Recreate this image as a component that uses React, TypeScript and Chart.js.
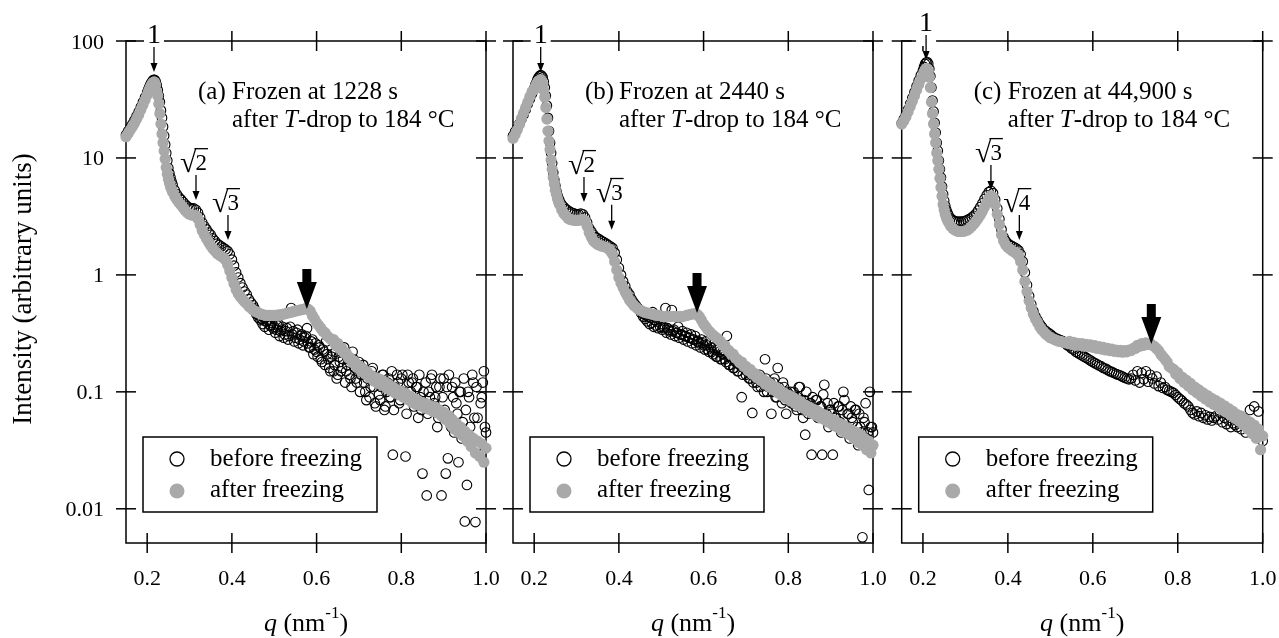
import React, { useEffect, useRef } from 'react';
import { Chart, registerables } from 'chart.js';

Chart.register(...registerables);

const W = 1279;
const H = 638;
const SERIF = '"Liberation Serif", "Times New Roman", Times, serif';
const GRAY = '#a9a9a9';

// ---------- data ----------
const qGrid = [
  0.15, 0.155, 0.16, 0.165, 0.17, 0.175, 0.18, 0.185, 0.19, 0.195,
  0.2, 0.2025, 0.205, 0.2075, 0.21, 0.2125, 0.215, 0.2175, 0.22, 0.2225,
  0.225, 0.2275, 0.23, 0.2325, 0.235, 0.2375, 0.24, 0.2425, 0.245, 0.2475,
  0.25, 0.2525, 0.255, 0.2575, 0.26, 0.265, 0.27, 0.275, 0.28, 0.285,
  0.29, 0.295, 0.3, 0.305, 0.31, 0.315, 0.32, 0.325, 0.33, 0.335,
  0.34, 0.345, 0.35, 0.355, 0.36, 0.365, 0.37, 0.375, 0.38, 0.385,
  0.39, 0.395, 0.4, 0.405, 0.41, 0.415, 0.42, 0.425, 0.43, 0.435,
  0.44, 0.445, 0.45, 0.455, 0.46, 0.465, 0.47, 0.475, 0.48, 0.485,
  0.49, 0.495, 0.5, 0.505, 0.51, 0.515, 0.52, 0.525, 0.53, 0.535,
  0.54, 0.545, 0.55, 0.555, 0.56, 0.565, 0.57, 0.575, 0.58, 0.585,
  0.59, 0.595, 0.6, 0.605, 0.61, 0.615, 0.62, 0.625, 0.63, 0.635,
  0.64, 0.645, 0.65, 0.655, 0.66, 0.665, 0.67, 0.675, 0.68, 0.685,
  0.69, 0.695, 0.7, 0.705, 0.71, 0.715, 0.72, 0.725, 0.73, 0.735,
  0.74, 0.745, 0.75, 0.755, 0.76, 0.765, 0.77, 0.775, 0.78, 0.785,
  0.79, 0.795, 0.8, 0.805, 0.81, 0.815, 0.82, 0.825, 0.83, 0.835,
  0.84, 0.845, 0.85, 0.855, 0.86, 0.865, 0.87, 0.875, 0.88, 0.885,
  0.89, 0.895, 0.9, 0.905, 0.91, 0.915, 0.92, 0.925, 0.93, 0.935,
  0.94, 0.945, 0.95, 0.955, 0.96, 0.965, 0.97, 0.975, 0.98, 0.985,
  0.99, 0.995, 1.0,
];

// additional "before freezing" measurement points in the noisy high-q range
const qExtra = [
  0.4525, 0.4575, 0.4625, 0.4675, 0.4725, 0.4775, 0.4825, 0.4875, 0.4925, 0.4975,
  0.5025, 0.5075, 0.5125, 0.5175, 0.5225, 0.5275, 0.5325, 0.5375, 0.5425, 0.5475,
  0.5525, 0.5575, 0.5625, 0.5675, 0.5725, 0.5775, 0.5825, 0.5875, 0.5925, 0.5975,
  0.6025, 0.6075, 0.6125, 0.6175, 0.6225, 0.6275, 0.6325, 0.6375, 0.6425, 0.6475,
  0.6525, 0.6575, 0.6625, 0.6675, 0.6725, 0.6775, 0.6825, 0.6875, 0.6925, 0.6975,
  0.7025, 0.7075, 0.7125, 0.7175, 0.7225, 0.7275, 0.7325, 0.7375, 0.7425, 0.7475,
  0.7525, 0.7575, 0.7625, 0.7675, 0.7725, 0.7775, 0.7825, 0.7875, 0.7925, 0.7975,
  0.8025, 0.8075, 0.8125, 0.8175, 0.8225, 0.8275, 0.8325, 0.8375, 0.8425, 0.8475,
  0.8525, 0.8575, 0.8625, 0.8675, 0.8725, 0.8775, 0.8825, 0.8875, 0.8925, 0.8975,
  0.9025, 0.9075, 0.9125, 0.9175, 0.9225, 0.9275, 0.9325, 0.9375, 0.9425, 0.9475,
  0.9525, 0.9575, 0.9625, 0.9675, 0.9725, 0.9775, 0.9825, 0.9875, 0.9925, 0.9975,
];

// (a) frozen at 1228 s
const afterA = [
  15.2, 16.2, 17.3, 18.5, 19.8, 21.5, 23.4, 25.8, 28.4, 31.3,
  34.5, 36.5, 38.5, 40.5, 42.0, 43.5, 44.5, 44.5, 42.0, 37.0,
  34.0, 29.0, 24.0, 19.5, 16.0, 13.5, 11.5, 9.8, 8.3, 7.3,
  6.6, 6.1, 5.7, 5.4, 5.1, 4.7, 4.4, 4.15, 3.95, 3.75,
  3.55, 3.4, 3.3, 3.25, 3.25, 3.2, 3.0, 2.7, 2.4, 2.2,
  2.05, 1.9, 1.78, 1.68, 1.6, 1.53, 1.48, 1.44, 1.4, 1.34,
  1.22, 1.08, 0.95, 0.84, 0.75, 0.69, 0.65, 0.62, 0.59, 0.565,
  0.54, 0.52, 0.5, 0.49, 0.48, 0.47, 0.46, 0.455, 0.45, 0.45,
  0.45, 0.45, 0.45, 0.45, 0.455, 0.455, 0.46, 0.465, 0.47, 0.475,
  0.48, 0.485, 0.49, 0.495, 0.5, 0.505, 0.51, 0.515, 0.51, 0.49,
  0.45, 0.42, 0.39, 0.37, 0.35, 0.33, 0.32, 0.3, 0.29, 0.28,
  0.28, 0.25, 0.26, 0.235, 0.235, 0.215, 0.215, 0.195, 0.195, 0.178,
  0.182, 0.162, 0.168, 0.15, 0.157, 0.142, 0.148, 0.132, 0.138, 0.124,
  0.132, 0.118, 0.128, 0.114, 0.122, 0.108, 0.116, 0.103, 0.11, 0.098,
  0.104, 0.094, 0.101, 0.09, 0.097, 0.086, 0.092, 0.081, 0.088, 0.078,
  0.084, 0.076, 0.081, 0.073, 0.079, 0.071, 0.076, 0.068, 0.074, 0.066,
  0.07, 0.062, 0.067, 0.058, 0.063, 0.053, 0.058, 0.048, 0.054, 0.045,
  0.05, 0.042, 0.046, 0.038, 0.043, 0.034, 0.04, 0.03, 0.038, 0.028,
  0.036, 0.025, 0.033,
];
const beforeA = [
  15.8, 17.0, 18.2, 19.5, 21.0, 22.8, 24.8, 27.2, 30.0, 33.0,
  36.5, 38.5, 40.5, 42.5, 44.0, 45.5, 46.5, 46.5, 45.0, 42.0,
  38.0, 34.0, 30.0, 25.5, 22.0, 18.5, 15.5, 13.0, 11.0, 9.5,
  8.2, 7.4, 6.8, 6.3, 5.9, 5.3, 4.9, 4.6, 4.4, 4.2,
  4.0, 3.85, 3.75, 3.7, 3.7, 3.6, 3.4, 3.1, 2.8, 2.6,
  2.45, 2.3, 2.2, 2.05, 1.95, 1.85, 1.8, 1.75, 1.7, 1.65,
  1.6, 1.5, 1.35, 1.2, 1.05, 0.95, 0.85, 0.78, 0.72, 0.68,
  0.62, 0.58, 0.55, 0.5, 0.47, 0.45, 0.42, 0.44, 0.4, 0.41,
  0.37, 0.39, 0.36, 0.34, 0.38, 0.33, 0.36, 0.31, 0.35, 0.3,
  0.52, 0.33, 0.29, 0.34, 0.28, 0.31, 0.27, 0.3, 0.26, 0.24,
  0.28, 0.23, 0.22, 0.25, 0.19, 0.23, 0.17, 0.21, 0.16, 0.2,
  0.15, 0.22, 0.14, 0.18, 0.16, 0.24, 0.15, 0.19, 0.13, 0.22,
  0.16, 0.12, 0.18, 0.14, 0.17, 0.1, 0.13, 0.09, 0.15, 0.11,
  0.075, 0.12, 0.085, 0.14, 0.07, 0.1, 0.13, 0.09, 0.029, 0.11,
  0.14, 0.08, 0.13, 0.1, 0.028, 0.14, 0.09, 0.12, 0.075, 0.11,
  0.06, 0.09, 0.02, 0.08, 0.013, 0.1, 0.13, 0.07, 0.09, 0.05,
  0.11, 0.013, 0.13, 0.02, 0.027, 0.06, 0.11, 0.045, 0.08, 0.025,
  0.1, 0.055, 0.0078, 0.016, 0.09, 0.04, 0.12, 0.0077, 0.06, 0.035,
  0.09, 0.15, 0.045,
];
const beforeAExtra = [
  0.52, 0.46, 0.43, 0.41, 0.38, 0.36, 0.4, 0.34, 0.37, 0.35,
  0.32, 0.37, 0.3, 0.34, 0.29, 0.33, 0.28, 0.36, 0.31, 0.27,
  0.32, 0.26, 0.3, 0.25, 0.29, 0.35, 0.24, 0.27, 0.21, 0.26,
  0.2, 0.24, 0.18, 0.22, 0.27, 0.19, 0.15, 0.21, 0.17, 0.13,
  0.2, 0.15, 0.19, 0.12, 0.17, 0.14, 0.11, 0.19, 0.13, 0.15,
  0.1, 0.16, 0.12, 0.085, 0.14, 0.11, 0.16, 0.08, 0.13, 0.095,
  0.11, 0.14, 0.075, 0.12, 0.09, 0.15, 0.07, 0.1, 0.12, 0.085,
  0.14, 0.095, 0.065, 0.12, 0.1, 0.13, 0.08, 0.11, 0.14, 0.07,
  0.1, 0.12, 0.065, 0.09, 0.14, 0.08, 0.11, 0.06, 0.13, 0.09,
  0.07, 0.11, 0.14, 0.05, 0.09, 0.12, 0.065, 0.1, 0.04, 0.13,
  0.07, 0.1, 0.05, 0.14, 0.06, 0.11, 0.035, 0.08, 0.12, 0.05,
];

// (b) frozen at 2440 s
const afterB = [
  14.7, 15.9, 17.3, 19.3, 21.8, 24.3, 27.0, 30.0, 33.5, 37.0,
  38.5, 40.5, 42.5, 44.0, 45.5, 46.0, 46.5, 46.0, 43.0, 38.0,
  33.0, 27.0, 21.5, 17.0, 14.0, 11.8, 9.6, 8.0, 6.8, 6.0,
  5.3, 4.9, 4.5, 4.2, 4.0, 3.6, 3.35, 3.2, 3.05, 2.98,
  2.95, 2.93, 2.92, 2.93, 2.96, 2.98, 2.9, 2.6, 2.3, 2.1,
  1.95, 1.88, 1.82, 1.79, 1.76, 1.74, 1.72, 1.68, 1.6, 1.5,
  1.3, 1.1, 0.95, 0.85, 0.78, 0.71, 0.66, 0.61, 0.58, 0.55,
  0.53, 0.51, 0.5, 0.49, 0.48, 0.475, 0.47, 0.465, 0.46, 0.455,
  0.45, 0.45, 0.445, 0.44, 0.44, 0.44, 0.44, 0.44, 0.44, 0.44,
  0.44, 0.44, 0.44, 0.445, 0.45, 0.455, 0.46, 0.465, 0.465, 0.46,
  0.44, 0.41, 0.38, 0.36, 0.34, 0.325, 0.31, 0.3, 0.29, 0.28,
  0.27, 0.25, 0.25, 0.23, 0.225, 0.21, 0.21, 0.195, 0.19, 0.178,
  0.18, 0.165, 0.165, 0.152, 0.156, 0.142, 0.144, 0.133, 0.136, 0.125,
  0.128, 0.117, 0.122, 0.11, 0.115, 0.104, 0.11, 0.098, 0.104, 0.093,
  0.098, 0.088, 0.094, 0.084, 0.09, 0.08, 0.086, 0.076, 0.082, 0.073,
  0.077, 0.069, 0.074, 0.066, 0.071, 0.063, 0.068, 0.06, 0.065, 0.058,
  0.062, 0.055, 0.059, 0.052, 0.057, 0.05, 0.054, 0.047, 0.052, 0.045,
  0.049, 0.043, 0.047, 0.04, 0.045, 0.037, 0.043, 0.035, 0.04, 0.032,
  0.038, 0.03, 0.035,
];
const beforeB = [
  15.5, 16.8, 18.0, 19.6, 21.5, 23.5, 26.0, 29.0, 32.0, 35.5,
  39.5, 42.0, 44.0, 46.5, 48.5, 50.0, 51.0, 50.5, 49.0, 45.0,
  40.0, 34.0, 28.0, 22.0, 17.0, 13.5, 11.0, 9.0, 7.5, 6.5,
  5.8, 5.2, 4.8, 4.5, 4.3, 4.0, 3.8, 3.65, 3.55, 3.45,
  3.4, 3.35, 3.3, 3.3, 3.35, 3.3, 3.1, 2.8, 2.5, 2.35,
  2.2, 2.1, 2.05, 2.0, 1.95, 1.9, 1.85, 1.8, 1.75, 1.7,
  1.55, 1.35, 1.15, 1.0, 0.88, 0.8, 0.72, 0.68, 0.62, 0.58,
  0.55, 0.52, 0.5, 0.48, 0.46, 0.45, 0.44, 0.43, 0.48, 0.41,
  0.4, 0.42, 0.38, 0.36, 0.52, 0.35, 0.33, 0.5, 0.34, 0.32,
  0.36, 0.31, 0.33, 0.3, 0.32, 0.29, 0.31, 0.28, 0.3, 0.27,
  0.26, 0.28, 0.25, 0.27, 0.23, 0.26, 0.22, 0.24, 0.2, 0.23,
  0.19, 0.21, 0.19, 0.3, 0.17, 0.2, 0.16, 0.18, 0.15, 0.17,
  0.09, 0.16, 0.14, 0.15, 0.13, 0.066, 0.14, 0.12, 0.13, 0.11,
  0.12, 0.19, 0.1, 0.11, 0.065, 0.12, 0.09, 0.16, 0.1, 0.08,
  0.11, 0.065, 0.09, 0.1, 0.08, 0.09, 0.07, 0.11, 0.085, 0.06,
  0.043, 0.075, 0.08, 0.029, 0.07, 0.085, 0.06, 0.075, 0.029, 0.115,
  0.065, 0.05, 0.07, 0.029, 0.06, 0.055, 0.075, 0.045, 0.1, 0.05,
  0.065, 0.04, 0.06, 0.045, 0.07, 0.035, 0.05, 0.0057, 0.055, 0.04,
  0.0145, 0.05, 0.045,
];
const beforeBExtra = [
  0.47, 0.44, 0.42, 0.4, 0.38, 0.39, 0.36, 0.37, 0.35, 0.36,
  0.34, 0.35, 0.32, 0.34, 0.31, 0.33, 0.3, 0.32, 0.29, 0.31,
  0.28, 0.3, 0.27, 0.29, 0.26, 0.28, 0.25, 0.27, 0.24, 0.26,
  0.23, 0.25, 0.22, 0.24, 0.21, 0.23, 0.2, 0.22, 0.19, 0.21,
  0.18, 0.2, 0.17, 0.19, 0.16, 0.18, 0.15, 0.17, 0.14, 0.16,
  0.15, 0.13, 0.14, 0.12, 0.13, 0.11, 0.14, 0.12, 0.1, 0.13,
  0.11, 0.12, 0.1, 0.13, 0.09, 0.11, 0.1, 0.12, 0.085, 0.1,
  0.095, 0.08, 0.1, 0.075, 0.09, 0.11, 0.07, 0.085, 0.1, 0.065,
  0.08, 0.09, 0.07, 0.085, 0.065, 0.075, 0.095, 0.06, 0.08, 0.07,
  0.065, 0.08, 0.06, 0.075, 0.055, 0.07, 0.085, 0.05, 0.065, 0.075,
  0.055, 0.07, 0.05, 0.065, 0.045, 0.06, 0.08, 0.045, 0.1, 0.05,
];

// (c) frozen at 44,900 s
const afterC = [
  19.5, 20.8, 22.5, 24.8, 27.5, 30.5, 34.0, 38.0, 42.5, 47.0,
  51.0, 54.0, 56.5, 58.0, 58.0, 55.0, 49.0, 40.0, 30.0, 24.0,
  19.5, 16.0, 13.5, 11.0, 9.5, 8.0, 6.7, 5.6, 4.7, 4.0,
  3.6, 3.3, 3.1, 2.95, 2.82, 2.62, 2.5, 2.42, 2.37, 2.35,
  2.35, 2.36, 2.38, 2.42, 2.5, 2.6, 2.72, 2.88, 3.05, 3.25,
  3.5, 3.8, 4.15, 4.5, 4.75, 4.6, 4.0, 3.3, 2.7, 2.2,
  1.95, 1.8, 1.72, 1.66, 1.61, 1.57, 1.53, 1.45, 1.3, 1.1,
  0.88, 0.72, 0.6, 0.52, 0.46, 0.42, 0.39, 0.36, 0.34, 0.325,
  0.31, 0.3, 0.29, 0.285, 0.28, 0.275, 0.27, 0.27, 0.265, 0.265,
  0.26, 0.27, 0.255, 0.265, 0.25, 0.26, 0.25, 0.258, 0.245, 0.255,
  0.245, 0.252, 0.24, 0.248, 0.235, 0.244, 0.232, 0.24, 0.228, 0.236,
  0.225, 0.232, 0.222, 0.228, 0.22, 0.226, 0.218, 0.225, 0.22, 0.228,
  0.225, 0.235, 0.235, 0.25, 0.245, 0.258, 0.25, 0.262, 0.255, 0.26,
  0.25, 0.245, 0.235, 0.225, 0.21, 0.2, 0.19, 0.18, 0.165, 0.16,
  0.156, 0.142, 0.146, 0.13, 0.134, 0.12, 0.126, 0.112, 0.118, 0.104,
  0.11, 0.098, 0.104, 0.092, 0.098, 0.087, 0.093, 0.082, 0.088, 0.078,
  0.084, 0.074, 0.08, 0.07, 0.076, 0.067, 0.072, 0.063, 0.068, 0.059,
  0.064, 0.056, 0.062, 0.052, 0.058, 0.048, 0.055, 0.044, 0.052, 0.04,
  0.048, 0.032, 0.042,
];
const beforeC = [
  19.8, 21.5, 23.5, 26.0, 29.0, 32.5, 36.5, 41.0, 46.0, 51.0,
  56.0, 60.0, 63.5, 65.5, 66.0, 64.0, 58.0, 50.0, 40.0, 31.0,
  25.0, 20.0, 16.5, 13.5, 11.5, 9.5, 8.0, 6.8, 5.7, 4.9,
  4.3, 3.9, 3.6, 3.4, 3.25, 3.05, 2.95, 2.88, 2.85, 2.85,
  2.85, 2.87, 2.9, 2.95, 3.02, 3.1, 3.2, 3.35, 3.55, 3.8,
  4.1, 4.45, 4.8, 5.1, 5.25, 5.0, 4.4, 3.7, 3.0, 2.45,
  2.1, 1.95, 1.85, 1.8, 1.76, 1.72, 1.68, 1.62, 1.5, 1.3,
  1.05, 0.82, 0.66, 0.56, 0.49, 0.44, 0.41, 0.38, 0.36, 0.34,
  0.33, 0.32, 0.31, 0.3, 0.29, 0.285, 0.28, 0.275, 0.27, 0.26,
  0.25, 0.245, 0.235, 0.23, 0.22, 0.215, 0.21, 0.205, 0.2, 0.195,
  0.19, 0.185, 0.18, 0.176, 0.172, 0.168, 0.165, 0.16, 0.158, 0.154,
  0.15, 0.148, 0.145, 0.142, 0.14, 0.138, 0.135, 0.132, 0.13, 0.128,
  0.13, 0.14, 0.125, 0.15, 0.12, 0.145, 0.128, 0.15, 0.122, 0.14,
  0.13, 0.118, 0.135, 0.112, 0.12, 0.108, 0.11, 0.104, 0.102, 0.1,
  0.098, 0.094, 0.09, 0.087, 0.084, 0.08, 0.078, 0.075, 0.07, 0.066,
  0.064, 0.068, 0.062, 0.066, 0.06, 0.063, 0.058, 0.061, 0.057, 0.06,
  0.062, 0.058, 0.066, 0.055, 0.06, 0.053, 0.057, 0.05, 0.054, 0.052,
  0.05, 0.056, 0.048, 0.06, 0.045, 0.052, 0.07, 0.048, 0.075, 0.044,
  0.068, 0.042, 0.038,
];
const beforeCExtra: number[] = [];

const seriesAfter = [afterA, afterB, afterC];
const seriesBefore = [beforeA, beforeB, beforeC];
const seriesBeforeExtra = [beforeAExtra, beforeBExtra, beforeCExtra];
const seriesLabels = ['after freezing', 'before freezing'];

const xTickValues = [0.2, 0.4, 0.6, 0.8, 1.0];
const xTickLabels = ['0.2', '0.4', '0.6', '0.8', '1.0'];
const yTickValues = [100, 10, 1, 0.1, 0.01];
const yTickLabels = ['100', '10', '1', '0.1', '0.01'];

const panelTags = ['(a)', '(b)', '(c)'];
const frozenText = ['Frozen at 1228 s', 'Frozen at 2440 s', 'Frozen at 44,900 s'];
const firstPeakQ = [0.2161, 0.2154, 0.2074];
const firstPeakI = [54.3, 54.3, 68.8];
const orderPeakDigits = [['2', '3'], ['2', '3'], ['3', '4']];
const orderPeakQ = [[0.3153, 0.3908], [0.3176, 0.383], [0.3601, 0.427]];
const orderPeakI = [[4.37, 1.99], [4.21, 2.43], [5.33, 1.99]];
const bigArrowQ = [0.577, 0.5845, 0.7377];
const bigArrowI = [0.51, 0.473, 0.257];

// ---------- layout ----------
const plotLeft = [126, 513, 901.7];
const plotRight = [486, 873, 1262.7];
const PLOT_TOP = 41;
const PLOT_BOTTOM = 543;

function seg(ctx: CanvasRenderingContext2D, x1: number, y1: number, x2: number, y2: number) {
  ctx.beginPath();
  ctx.moveTo(x1, y1);
  ctx.lineTo(x2, y2);
  ctx.stroke();
}

function thinArrow(ctx: CanvasRenderingContext2D, x: number, tip: number) {
  ctx.lineWidth = 1.3;
  seg(ctx, x, tip - 25, x, tip - 6);
  ctx.beginPath();
  ctx.moveTo(x - 3.5, tip - 9);
  ctx.lineTo(x + 3.5, tip - 9);
  ctx.lineTo(x, tip);
  ctx.closePath();
  ctx.fill();
}

function bigArrow(ctx: CanvasRenderingContext2D, x: number, tip: number) {
  ctx.beginPath();
  ctx.moveTo(x - 4.5, tip - 40);
  ctx.lineTo(x + 4.5, tip - 40);
  ctx.lineTo(x + 4.5, tip - 27);
  ctx.lineTo(x + 10, tip - 27);
  ctx.lineTo(x, tip);
  ctx.lineTo(x - 10, tip - 27);
  ctx.lineTo(x - 4.5, tip - 27);
  ctx.closePath();
  ctx.fill();
}

type Run = { t: string; f: string; dy?: number };
function runsWidth(ctx: CanvasRenderingContext2D, runs: Run[]) {
  let w = 0;
  for (const r of runs) {
    ctx.font = r.f;
    w += ctx.measureText(r.t).width;
  }
  return w;
}
function drawRuns(ctx: CanvasRenderingContext2D, runs: Run[], x: number, y: number) {
  let cx = x;
  for (const r of runs) {
    ctx.font = r.f;
    ctx.fillText(r.t, cx, y + (r.dy || 0));
    cx += ctx.measureText(r.t).width;
  }
}

function makePanelPlugin(p: number) {
  return {
    id: 'panelDecor' + p,
    beforeDatasetsDraw(chart: any) {
      const ctx: CanvasRenderingContext2D = chart.ctx;
      const a = chart.chartArea;
      const xs = chart.scales.x;
      const ys = chart.scales.y;
      ctx.save();
      ctx.strokeStyle = '#000';
      ctx.fillStyle = '#000';
      ctx.lineWidth = 1.5;
      ctx.strokeRect(a.left, a.top, a.right - a.left, a.bottom - a.top);
      for (const v of xTickValues) {
        const x = xs.getPixelForValue(v);
        seg(ctx, x, a.bottom - 10, x, a.bottom + 10);
        seg(ctx, x, a.top - 10, x, a.top + 10);
      }
      for (const v of yTickValues) {
        const y = ys.getPixelForValue(v);
        seg(ctx, a.left - 10, y, a.left + 10, y);
        seg(ctx, a.right - 10, y, a.right + 10, y);
      }
      ctx.textBaseline = 'alphabetic';
      ctx.textAlign = 'center';
      ctx.font = `22px ${SERIF}`;
      xTickValues.forEach((v, i) => ctx.fillText(xTickLabels[i], xs.getPixelForValue(v), 585));
      if (p === 0) {
        ctx.textAlign = 'right';
        yTickValues.forEach((v, i) => ctx.fillText(yTickLabels[i], 104, ys.getPixelForValue(v) + 7.5));
        ctx.save();
        ctx.translate(31, (a.top + a.bottom) / 2 - 3);
        ctx.rotate(-Math.PI / 2);
        ctx.textAlign = 'center';
        ctx.font = `27px ${SERIF}`;
        ctx.fillText('Intensity (arbitrary units)', 0, 0);
        ctx.restore();
      }
      // x-axis title: q (nm^-1)
      ctx.textAlign = 'left';
      const runs: Run[] = [
        { t: 'q', f: `italic 26px ${SERIF}` },
        { t: ' (nm', f: `26px ${SERIF}` },
        { t: '-1', f: `17px ${SERIF}`, dy: -13 },
        { t: ')', f: `26px ${SERIF}` },
      ];
      const tw = runsWidth(ctx, runs);
      drawRuns(ctx, runs, (a.left + a.right) / 2 - tw / 2, 631);
      ctx.restore();
    },
    afterDatasetsDraw(chart: any) {
      const ctx: CanvasRenderingContext2D = chart.ctx;
      const a = chart.chartArea;
      const xs = chart.scales.x;
      const ys = chart.scales.y;
      ctx.save();
      ctx.fillStyle = '#000';
      ctx.strokeStyle = '#000';
      ctx.textBaseline = 'alphabetic';
      ctx.textAlign = 'left';
      // panel description
      ctx.font = `25px ${SERIF}`;
      ctx.fillText(panelTags[p], a.left + 72, 99);
      ctx.fillText(frozenText[p], a.left + 106, 99);
      drawRuns(ctx, [
        { t: 'after ', f: `25px ${SERIF}` },
        { t: 'T', f: `italic 25px ${SERIF}` },
        { t: '-drop to 184 °C', f: `25px ${SERIF}` },
      ], a.left + 106, 127);

      // first-order peak
      const px = xs.getPixelForValue(firstPeakQ[p]);
      const pt = ys.getPixelForValue(firstPeakI[p]);
      ctx.fillStyle = '#fff';
      ctx.fillRect(px - 10, pt - 51, 20, 37);
      ctx.fillStyle = '#000';
      ctx.textAlign = 'center';
      ctx.font = `28px ${SERIF}`;
      ctx.fillText('1', px, pt - 29);
      thinArrow(ctx, px, pt);

      // higher-order peaks (sqrt labels)
      ctx.textAlign = 'left';
      for (let k = 0; k < 2; k++) {
        const x = xs.getPixelForValue(orderPeakQ[p][k]);
        const tip = ys.getPixelForValue(orderPeakI[p][k]);
        const L = x - 16;
        const B = tip - 30;
        ctx.font = `30px ${SERIF}`;
        const m = ctx.measureText('√');
        ctx.fillText('√', L, B + 2);
        const gw = m.width;
        const asc = (m.actualBoundingBoxAscent || 24) - 2;
        ctx.font = `23px ${SERIF}`;
        const dw = ctx.measureText(orderPeakDigits[p][k]).width;
        ctx.fillText(orderPeakDigits[p][k], L + gw - 1, B);
        ctx.lineWidth = 1.3;
        seg(ctx, L + gw - 2, B - asc + 0.7, L + gw + dw, B - asc + 0.7);
        thinArrow(ctx, x, tip);
      }

      // big arrow
      bigArrow(ctx, xs.getPixelForValue(bigArrowQ[p]), ys.getPixelForValue(bigArrowI[p]));

      // legend
      const lx = a.left + 17;
      ctx.fillStyle = '#fff';
      ctx.fillRect(lx, 437, 234, 75);
      ctx.lineWidth = 1.5;
      ctx.strokeRect(lx, 437, 234, 75);
      ctx.beginPath();
      ctx.arc(a.left + 51, 459, 7, 0, Math.PI * 2);
      ctx.lineWidth = 1.3;
      ctx.stroke();
      ctx.fillStyle = GRAY;
      ctx.beginPath();
      ctx.arc(a.left + 51, 491, 7.5, 0, Math.PI * 2);
      ctx.fill();
      ctx.fillStyle = '#000';
      ctx.font = `25px ${SERIF}`;
      ctx.textAlign = 'left';
      ctx.fillText(chart.data.datasets[1].label, a.left + 84, 466);
      ctx.fillText(chart.data.datasets[0].label, a.left + 84, 497);
      ctx.restore();
    },
  };
}

function makeConfig(p: number): any {
  const beforePts = qGrid.map((q, i) => ({ x: q, y: seriesBefore[p][i] }))
    .concat(seriesBeforeExtra[p].map((v, i) => ({ x: qExtra[i], y: v })));
  return {
    type: 'scatter',
    data: {
      datasets: [
        {
          label: seriesLabels[0],
          data: qGrid.map((q, i) => ({ x: q, y: seriesAfter[p][i] })),
          pointRadius: 5.6,
          pointBackgroundColor: GRAY,
          pointBorderColor: GRAY,
          pointBorderWidth: 0,
          pointHoverRadius: 5.6,
          clip: false,
          order: 0,
        },
        {
          label: seriesLabels[1],
          data: beforePts,
          pointRadius: 4.8,
          pointBackgroundColor: 'rgba(0,0,0,0)',
          pointBorderColor: '#000',
          pointBorderWidth: 1.1,
          pointHoverRadius: 4.8,
          clip: false,
          order: 1,
        },
      ],
    },
    options: {
      responsive: false,
      animation: false,
      devicePixelRatio: 1,
      events: [],
      layout: {
        padding: {
          left: plotLeft[p],
          right: W - plotRight[p],
          top: PLOT_TOP,
          bottom: H - PLOT_BOTTOM,
        },
      },
      plugins: { legend: { display: false }, tooltip: { enabled: false }, title: { display: false } },
      scales: {
        x: { type: 'linear', min: 0.15, max: 1.0, display: false },
        y: { type: 'logarithmic', min: 0.0051, max: 100, display: false },
      },
    },
    plugins: [makePanelPlugin(p)],
  };
}

export default function App() {
  const r0 = useRef<HTMLCanvasElement>(null);
  const r1 = useRef<HTMLCanvasElement>(null);
  const r2 = useRef<HTMLCanvasElement>(null);
  useEffect(() => {
    const refs = [r0, r1, r2];
    const charts = refs.map((r, i) => new Chart(r.current as HTMLCanvasElement, makeConfig(i)));
    return () => charts.forEach((c) => c.destroy());
  }, []);
  const cs: React.CSSProperties = { position: 'absolute', left: 0, top: 0, width: W, height: H };
  return (
    <div style={{ position: 'fixed', left: 0, top: 0, width: W, height: H, background: '#fff', overflow: 'hidden' }}>
      <canvas ref={r0} width={W} height={H} style={cs} />
      <canvas ref={r1} width={W} height={H} style={cs} />
      <canvas ref={r2} width={W} height={H} style={cs} />
    </div>
  );
}
